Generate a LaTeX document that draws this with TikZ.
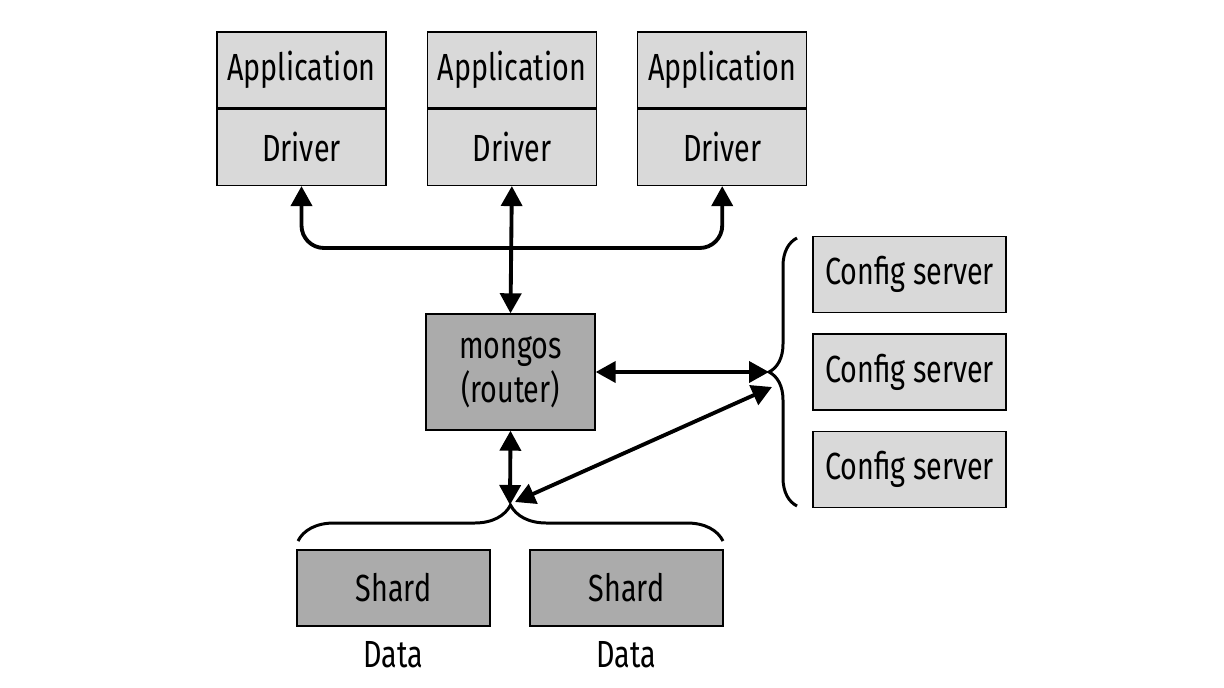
\documentclass[tikz,border=0pt]{standalone}
\usepackage{fontspec}
\setmainfont[FakeStretch=0.76]{Fira Sans}
\usetikzlibrary{positioning,arrows.meta,decorations.pathreplacing}
\definecolor{lightbox}{HTML}{D9D9D9}
\definecolor{darkbox}{HTML}{ABABAB}
\tikzset{
  box/.style={draw, line width=0.8pt, inner sep=0pt, font=\fontsize{21.5}{25}\selectfont},
  appbox/.style={box, fill=lightbox, minimum width=3.38cm, minimum height=1.52cm},
  cfgbox/.style={box, fill=lightbox, minimum width=3.86cm, minimum height=1.52cm},
  shardbox/.style={box, fill=darkbox, minimum width=3.86cm, minimum height=1.52cm},
  dbl/.style={{Triangle[length=0.4cm,width=0.42cm]}-{Triangle[length=0.4cm,width=0.42cm]}, line width=2.2pt},
  curly/.style={decorate, line width=1.7pt},
  label/.style={font=\fontsize{21.5}{25}\selectfont}
}
\begin{document}
\begin{tikzpicture}[x=0.02cm, y=-0.02cm]
    \useasboundingbox (0,0) rectangle (1224,687);

    % applications with their drivers
    \node (app1) [appbox] at (301.5,70) {Application};
    \node (drv1) [appbox, below=0pt of app1] {Driver};
    \node (app2) [appbox, right=0.8cm of app1] {Application};
    \node (drv2) [appbox, below=0pt of app2] {Driver};
    \node (app3) [appbox, right=0.8cm of app2] {Application};
    \node (drv3) [appbox, below=0pt of app3] {Driver};

    % router
    \node (mongos) [box, fill=darkbox, minimum width=3.38cm, minimum height=2.32cm, align=center]
        at (510.5,372) {mongos\\(router)};

    % config servers
    \node (cfg2) [cfgbox] at (909.5,372) {Config server};
    \node (cfg1) [cfgbox, above=0.4cm of cfg2] {Config server};
    \node (cfg3) [cfgbox, below=0.4cm of cfg2] {Config server};

    % shards
    \node (sh1) [shardbox] at (393.5,588) {Shard};
    \node (sh2) [shardbox] at (626.5,588) {Shard};
    \node (data1) [label] at (393.5,655) {Data};
    \node (data2) [label] at (626.5,655) {Data};

    \coordinate (bus) at (510,248);
    \coordinate (cfgtip) at (769,372);
    \coordinate (shtip) at (510,505);
    \coordinate (cfgdiag) at (772,387);
    \coordinate (shdiag) at (515,502);

    % braces
    \draw [curly, decoration={brace, amplitude=0.72cm}] (298,541) -- (723,541);
    \draw [curly, decoration={brace, amplitude=0.56cm}] (797,506) -- (797,238);

    % connections
    \draw [dbl, rounded corners=0.45cm] (drv1.south) |- (bus) -| (drv3.south);
    \draw [dbl] (drv2.south) -- (mongos.north);
    \draw [dbl] (mongos.east) -- (cfgtip);
    \draw [dbl] (mongos.south) -- (shtip);
    \draw [dbl] (cfgdiag) -- (shdiag);
\end{tikzpicture}
\end{document}
